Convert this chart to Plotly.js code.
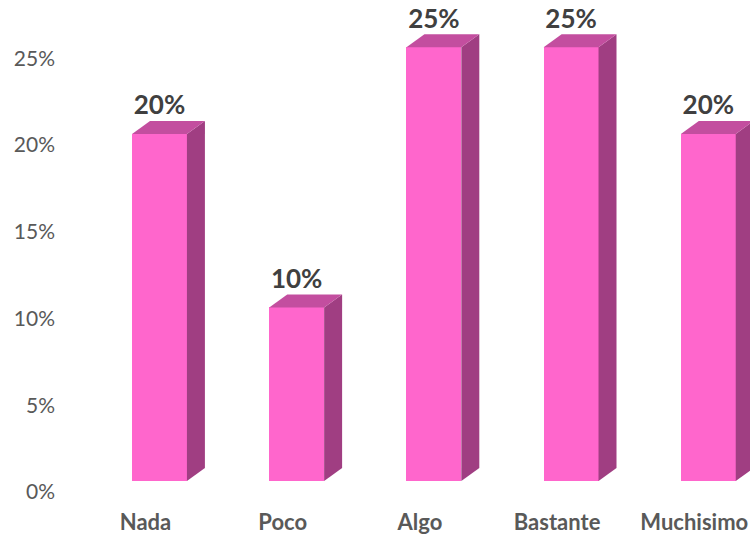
<!DOCTYPE html>
<html><head><meta charset="utf-8">
<script src="https://cdn.plot.ly/plotly-3.0.1.min.js"></script>
<style>html,body{margin:0;padding:0;background:#fff}</style></head>
<body><div id="chart" style="width:750px;height:536px"></div>
<script>
var categories = ["Nada","Poco","Algo","Bastante","Muchisimo"];
var values = [20,10,25,25,20];
var yTicks = [0,5,10,15,20,25];
var yTickLabels = ["0%","5%","10%","15%","20%","25%"];
var barWidth = 0.4, depthX = 0.131, depthY = 0.75;
var frontColor = "#FF66CC", sideColor = "#A03E82", topColor = "#C34E9F";

var traces = [];
categories.forEach(function(c,i){
  var v = values[i], l = i-barWidth/2, r = i+barWidth/2;
  traces.push({type:"scatter",mode:"lines",fill:"toself",fillcolor:sideColor,line:{width:0},hoverinfo:"skip",showlegend:false,
    x:[r,r+depthX,r+depthX,r,r], y:[v,v+depthY,depthY,0,v]});
  traces.push({type:"scatter",mode:"lines",fill:"toself",fillcolor:topColor,line:{width:0},hoverinfo:"skip",showlegend:false,
    x:[l,l+depthX,r+depthX,r,l], y:[v,v+depthY,v+depthY,v,v]});
});
traces.push({type:"bar",x:categories.map(function(c,i){return i;}),y:values,width:barWidth,
  marker:{color:frontColor,line:{width:0}},showlegend:false,cliponaxis:false});
traces.push({type:"scatter",mode:"text",x:categories.map(function(c,i){return i;}),
  y:values.map(function(v){return v+depthY;}),
  text:values.map(function(v){return "<b>"+v+"%</b>";}),textposition:"top center",
  textfont:{family:"Lato, Carlito, sans-serif",size:26,color:"#404040"},showlegend:false,hoverinfo:"skip",cliponaxis:false});

var layout = {
  width:750,height:536,paper_bgcolor:"#fff",plot_bgcolor:"#fff",showlegend:false,
  margin:{l:62,r:0,t:0,b:55,pad:0},
  bargap:0,
  xaxis:{range:[-0.7106,4.304],tickmode:"array",tickvals:categories.map(function(c,i){return i;}),ticktext:categories.map(function(c){return "<b>"+c+"</b>";}),
    ticklabelshift:-14,ticklabelstandoff:26,ticks:"",showgrid:false,zeroline:false,showline:false,
    tickfont:{family:"Lato, Carlito, sans-serif",size:22,color:"#595959"}},
  yaxis:{range:[0,27.72],tickmode:"array",tickvals:yTicks,ticktext:yTickLabels,ticklabelshift:11,ticklabelstandoff:6,
    ticks:"",showgrid:false,zeroline:false,showline:false,
    tickfont:{family:"Lato, Carlito, sans-serif",size:21,color:"#595959"}}
};
Plotly.newPlot("chart",traces,layout,{displayModeBar:false,staticPlot:true});
</script></body></html>
